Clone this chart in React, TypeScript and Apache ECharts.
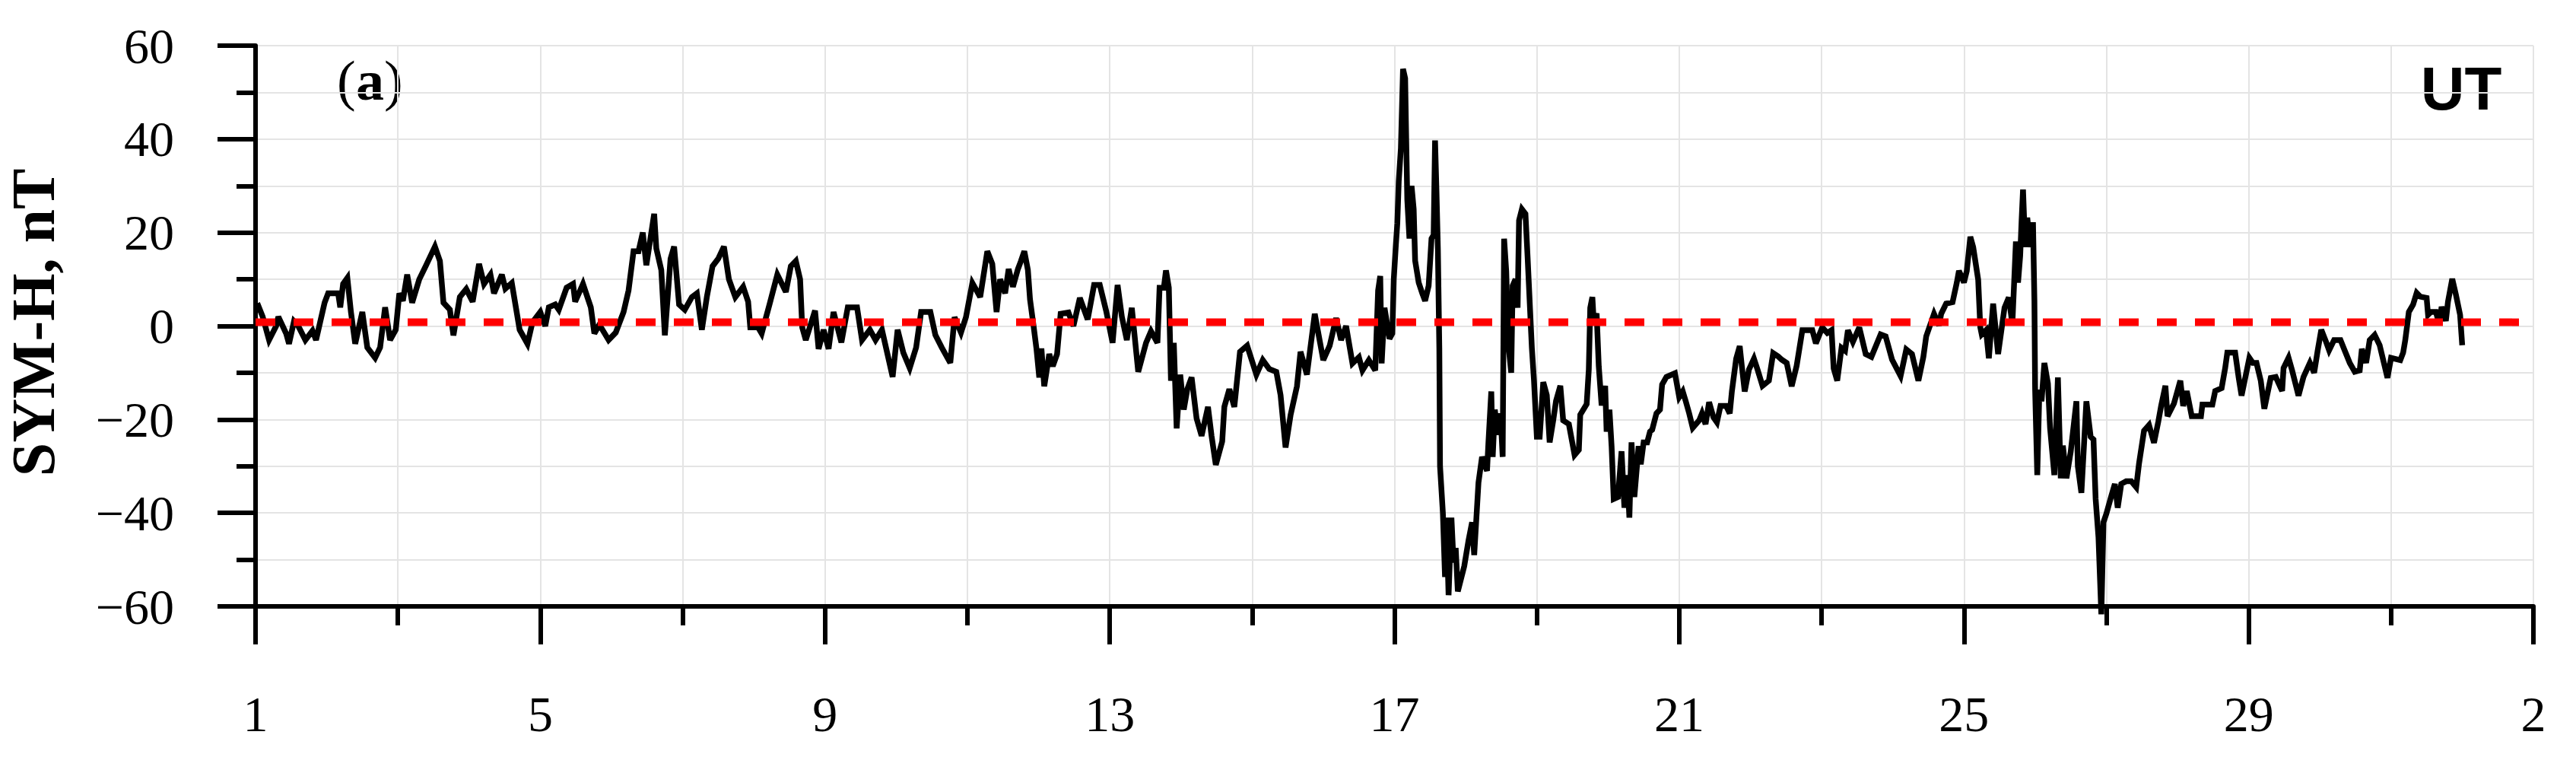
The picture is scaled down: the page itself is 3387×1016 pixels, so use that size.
import React, { useEffect, useRef } from "react";
import * as echarts from "echarts";

// Day of month (fractional, UT) and SYM-H (nT)
const symDays: number[] = [
  1.0, 1.04, 1.1, 1.19, 1.29, 1.32, 1.43, 1.47, 1.54, 1.6, 1.7, 1.8, 1.85, 1.97, 2.02, 2.16, 2.19, 2.23, 2.29, 2.34,
  2.4, 2.5, 2.57, 2.68, 2.75, 2.82, 2.89, 2.97, 3.02, 3.07, 3.13, 3.2, 3.3, 3.39, 3.52, 3.59, 3.64, 3.73, 3.78, 3.87,
  3.96, 4.05, 4.14, 4.21, 4.3, 4.35, 4.46, 4.51, 4.6, 4.71, 4.82, 4.89, 5.0, 5.07, 5.12, 5.21, 5.26, 5.37, 5.46, 5.49,
  5.6, 5.71, 5.76, 5.83, 5.96, 6.06, 6.17, 6.24, 6.31, 6.38, 6.44, 6.49, 6.54, 6.6, 6.63, 6.7, 6.75, 6.83, 6.88, 6.95,
  7.03, 7.13, 7.2, 7.27, 7.34, 7.42, 7.5, 7.58, 7.65, 7.74, 7.85, 7.92, 7.95, 8.06, 8.11, 8.22, 8.33, 8.45, 8.52, 8.59,
  8.65, 8.68, 8.73, 8.86, 8.91, 8.98, 9.05, 9.12, 9.23, 9.32, 9.45, 9.52, 9.63, 9.71, 9.8, 9.95, 10.02, 10.1, 10.19, 10.28,
  10.35, 10.48, 10.55, 10.64, 10.76, 10.82, 10.91, 10.98, 11.07, 11.18, 11.28, 11.35, 11.41, 11.46, 11.53, 11.58, 11.64, 11.71, 11.75, 11.8,
  11.85, 11.88, 11.93, 11.97, 12.01, 12.04, 12.08, 12.15, 12.2, 12.26, 12.31, 12.42, 12.49, 12.58, 12.69, 12.78, 12.86, 12.95, 13.04, 13.11,
  13.17, 13.24, 13.31, 13.4, 13.51, 13.58, 13.67, 13.7, 13.76, 13.79, 13.83, 13.86, 13.9, 13.94, 13.99, 14.04, 14.09, 14.15, 14.22, 14.29,
  14.38, 14.43, 14.49, 14.58, 14.61, 14.68, 14.75, 14.83, 14.93, 15.06, 15.15, 15.24, 15.34, 15.4, 15.47, 15.54, 15.63, 15.68, 15.77, 15.88,
  16.0, 16.09, 16.18, 16.25, 16.32, 16.41, 16.5, 16.55, 16.64, 16.73, 16.77, 16.8, 16.82, 16.86, 16.93, 16.97, 16.99, 17.02, 17.04, 17.06,
  17.09, 17.12, 17.15, 17.16, 17.18, 17.21, 17.24, 17.27, 17.29, 17.34, 17.39, 17.43, 17.48, 17.52, 17.55, 17.57, 17.59, 17.61, 17.63, 17.64,
  17.68, 17.71, 17.73, 17.76, 17.8, 17.83, 17.86, 17.89, 17.98, 18.04, 18.09, 18.12, 18.18, 18.23, 18.3, 18.32, 18.36, 18.38, 18.41, 18.45,
  18.49, 18.52, 18.54, 18.57, 18.6, 18.64, 18.66, 18.7, 18.73, 18.75, 18.79, 18.84, 18.87, 18.93, 18.96, 19.0, 19.04, 19.09, 19.14, 19.18,
  19.23, 19.27, 19.33, 19.37, 19.45, 19.53, 19.59, 19.61, 19.7, 19.73, 19.75, 19.78, 19.8, 19.84, 19.87, 19.91, 19.96, 19.98, 20.02, 20.05,
  20.08, 20.14, 20.19, 20.23, 20.27, 20.3, 20.33, 20.37, 20.43, 20.46, 20.5, 20.55, 20.59, 20.62, 20.68, 20.73, 20.76, 20.82, 20.94, 21.0,
  21.05, 21.09, 21.14, 21.19, 21.28, 21.32, 21.37, 21.42, 21.48, 21.53, 21.58, 21.66, 21.71, 21.74, 21.8, 21.85, 21.88, 21.92, 21.98, 22.05,
  22.1, 22.17, 22.26, 22.32, 22.39, 22.44, 22.51, 22.58, 22.65, 22.73, 22.87, 22.92, 23.01, 23.08, 23.14, 23.17, 23.22, 23.28, 23.33, 23.37,
  23.44, 23.53, 23.62, 23.7, 23.83, 23.9, 23.99, 24.11, 24.19, 24.27, 24.36, 24.43, 24.47, 24.58, 24.65, 24.68, 24.75, 24.84, 24.9, 24.93,
  25.0, 25.04, 25.09, 25.13, 25.2, 25.23, 25.25, 25.31, 25.35, 25.41, 25.48, 25.57, 25.63, 25.68, 25.73, 25.76, 25.79, 25.81, 25.83, 25.86,
  25.89, 25.93, 25.97, 25.99, 26.0, 26.03, 26.06, 26.09, 26.13, 26.18, 26.21, 26.27, 26.32, 26.36, 26.39, 26.44, 26.5, 26.58, 26.6, 26.65,
  26.72, 26.78, 26.82, 26.85, 26.89, 26.93, 26.96, 27.0, 27.07, 27.12, 27.16, 27.21, 27.28, 27.35, 27.42, 27.46, 27.53, 27.6, 27.67, 27.73,
  27.77, 27.83, 27.86, 27.95, 28.04, 28.08, 28.13, 28.2, 28.33, 28.35, 28.49, 28.53, 28.62, 28.67, 28.7, 28.81, 28.86, 28.9, 29.01, 29.06,
  29.11, 29.17, 29.22, 29.31, 29.38, 29.47, 29.49, 29.56, 29.61, 29.7, 29.77, 29.86, 29.92, 29.97, 30.02, 30.09, 30.13, 30.2, 30.29, 30.34,
  30.42, 30.49, 30.56, 30.59, 30.65, 30.7, 30.77, 30.84, 30.9, 30.95, 31.0, 31.13, 31.17, 31.2, 31.25, 31.31, 31.36, 31.41, 31.5, 31.52,
  31.56, 31.63, 31.68, 31.71, 31.77, 31.8, 31.86, 31.91, 31.97, 32.0,
];

const symValues: number[] = [
  4, 4.3, 2, -3, 0, 2, -1.6, -3.8, 1, 0, -3, -1, -3, 5, 7, 7, 4, 9, 10.3, 3,
  -3.8, 3, -4.6, -6.8, -4.6, 4, -3, -0.8, 7, 5.4, 11, 5, 10, 12.8, 17, 13.9, 5, 3.5, -2, 6.2,
  7.9, 5.2, 13.3, 9, 11, 7, 11, 8, 9.2, -0.8, -3.8, 0.8, 3, 0, 4, 4.6, 3.5, 8.2, 9, 5.2,
  9, 4, -1.6, 0.3, -3, -1.4, 3, 7.6, 16, 16, 20, 13, 18, 24, 16.6, 12, -2, 14.4, 17, 4.6,
  3.5, 6.2, 7, -0.8, 6.2, 12.8, 14.4, 17, 10, 6.2, 8.4, 5.2, -0.3, -0.3, -1.6, 4.6, 11, 7.3, 12.8, 13.9,
  10, -0.3, -3, 3.3, -4.9, -0.8, -4.9, 3, -3.5, 4, 4, -3, -0.8, -3, -0.8, -10.9, -0.8, -5.7, -9, -4.6,
  3, 3, -1.9, -4.6, -7.9, 1.9, -1.4, 1.9, 9.2, 6.2, 16, 13.3, 3, 10, 7, 12.2, 8.4, 12.2, 13.8, 16,
  12, 5.7, 0, -4.8, -11, -4.8, -12.9, -6, -8.6, -6, 2.6, 2.9, 0, 6, 1.4, 8.8, 8.8, 3.2, -3.6, 8.8,
  2, -3, 3.9, -9.8, -3.6, -1.1, -3.6, 8.2, 8.2, 11.9, 8.2, -11.7, -3.6, -21.9, -10.4, -17.9, -13.5, -11, -19.8, -23.5,
  -17.3, -23.5, -29.7, -24.7, -17.3, -13.5, -17.3, -5.5, -4.2, -10.4, -7.3, -9.2, -9.8, -14.8, -26, -19.1, -12.9, -5.5, -10.4, 2.6,
  -7.3, -4.2, 1.7, -3, 0, -8, -6.7, -9.5, -7.3, -9.5, 7.6, 10.7, -8, 3.9, -2.7, -1.6, 10, 17.5, 22, 31,
  38, 55, 53, 44, 27, 18.7, 30, 25, 14, 9.3, 7, 5.4, 8.6, 18.7, 19.5, 39.7, 28.8, 16.3, -4.7, -30,
  -40, -53.7, -41, -57.6, -41, -50.6, -47.5, -56.8, -51.4, -45.9, -42, -49, -33.5, -28, -31, -24.9, -14, -28, -17.9, -23.3,
  -18.7, -28, 18.7, 11.7, -3.9, -10, 8.6, 10, 3.9, 22.6, 25, 24, 14.8, -4.7, -11.7, -23.7, -23.7, -12, -14.8, -24.9,
  -20.2, -16, -12.8, -20.2, -21, -27.6, -26.5, -19, -16.7, -9.3, 3.9, 6.2, 0.8, 2.7, -8.6, -17, -12.8, -22.6, -17.9, -25.7,
  -37, -36.6, -26.8, -38.9, -31.9, -41, -24.9, -36.6, -25.7, -29.6, -24.9, -24.9, -22.6, -22.2, -18.7, -17.9, -12.5, -10.9, -10.1, -15.2,
  -14, -16, -18.7, -21.8, -20.2, -18.7, -21, -16.3, -19.5, -20.6, -17.1, -17.1, -18.7, -14, -7, -4.3, -8.6, -14, -9.3, -7,
  -9.3, -12.8, -11.7, -5.8, -6.5, -7.2, -7.9, -12.9, -8.5, -0.9, -0.9, -3.7, -0.3, -1.5, -0.9, -9.1, -11.7, -4.7, -5.3, -0.9,
  -3.4, -0.3, -6, -6.6, -1.8, -2.2, -7.2, -10.7, -5, -6, -11.7, -6.6, -2.2, 2.6, 0.1, 2.6, 4.8, 5.1, 9.3, 11.8,
  9.3, 11.8, 19.1, 16.9, 9.9, -0.3, -1.8, -0.9, -6.9, 4.8, -6, 3.9, 6.1, 0.4, 18.1, 9.3, 15, 22.6, 29.2, 16.9,
  23.2, 16.9, 22.2, 5.4, -13.6, -31.9, -13.6, -16.1, -7.9, -12.3, -21.8, -31.9, -11, -32.6, -25.6, -32.6, -26.9, -16.1, -30, -35.7,
  -16.1, -23.7, -24.3, -37, -45.2, -61.7, -42, -40.2, -36.4, -33.8, -38.9, -33.8, -33.2, -33.2, -34.5, -29.4, -22.4, -21.2, -25, -20.5,
  -17.1, -12.8, -19.3, -16.6, -11.7, -17.1, -13.9, -19.3, -19.3, -16.8, -16.8, -13.9, -13.3, -9, -5.7, -5.7, -11.1, -14.9, -6.8, -7.9,
  -7.9, -11.7, -17.7, -11.1, -10.9, -13.9, -9, -6.8, -9.5, -14.9, -10.9, -7.9, -10, -5.2, -0.8, -3.5, -5.2, -3, -3, -4.9,
  -7.9, -9.8, -9.5, -4.9, -7.9, -3, -1.9, -4.1, -7.9, -11.1, -6.8, -7.3, -5.7, -3, 3, 4.6, 7.1, 6.3, 6, 2.4,
  3, 3, 0.3, 4.1, 1.1, 5.2, 10.1, 6.8, 2.4, -4.1,
];

// Reference (mean) level drawn as the red dashed line
const refLevel = 0.8;
const refDays: number[] = [1, 33];

// Axes
const firstDay = 1;
const monthLength = 31;
const dayTickStep = 4;
const daySpan = 32;
const yMin = -60;
const yMax = 60;
const yStep = 20;

const panelLabel = "a";
const cornerLabel = "UT";
const yTitle = "SYM-H, nT";

export default function App() {
  const ref = useRef<HTMLDivElement>(null);

  useEffect(() => {
    document.body.style.margin = "0";
    const chart = echarts.init(ref.current!, null, { renderer: "svg" });
    const lineData = symDays.map((d, i) => [d - firstDay, symValues[i]]);
    const refData = refDays.map((d) => [d - firstDay, refLevel]);
    const serif = "Liberation Serif";
    const grid = { color: "#e4e4e4", width: 2 };
    const labelSize = 74;
    const labelY = 106;

    chart.setOption({
      animation: false,
      backgroundColor: "#ffffff",
      grid: { left: 336, right: 56, top: 60, bottom: 219, containLabel: false },
      xAxis: {
        type: "value",
        min: 0,
        max: daySpan,
        interval: dayTickStep,
        axisLine: { onZero: false, lineStyle: { color: "#000", width: 6 } },
        axisTick: { show: true, length: 50, lineStyle: { color: "#000", width: 6 } },
        minorTick: { show: true, splitNumber: 2, length: 25, lineStyle: { color: "#000", width: 6 } },
        splitLine: { show: true, lineStyle: grid },
        minorSplitLine: { show: true, lineStyle: grid },
        axisLabel: {
          margin: 108,
          fontFamily: serif,
          fontSize: 66,
          color: "#000",
          formatter: (v: number) => {
            const d = Math.round(v) + firstDay;
            return String(d > monthLength ? d - monthLength : d);
          },
        },
      },
      yAxis: {
        type: "value",
        min: yMin,
        max: yMax,
        interval: yStep,
        axisLine: { show: true, onZero: false, lineStyle: { color: "#000", width: 6 } },
        axisTick: { show: true, length: 50, lineStyle: { color: "#000", width: 6 } },
        minorTick: { show: true, splitNumber: 2, length: 25, lineStyle: { color: "#000", width: 6 } },
        splitLine: { show: true, lineStyle: grid },
        minorSplitLine: { show: true, lineStyle: grid },
        axisLabel: {
          margin: 107,
          fontFamily: serif,
          fontSize: 66,
          color: "#000",
          formatter: (v: number) => (v < 0 ? "\u2212" + Math.abs(v) : String(v)),
        },
      },
      series: [
        {
          type: "line",
          data: lineData,
          showSymbol: false,
          clip: false,
          lineStyle: { color: "#000", width: 7.5, join: "miter", miterLimit: 3 },
          z: 3,
        },
        {
          type: "line",
          data: refData,
          showSymbol: false,
          lineStyle: { color: "#ff0000", width: 10, type: [26, 24], cap: "butt" },
          z: 4,
        },
      ],
      graphic: [
        {
          type: "text",
          x: 443,
          y: labelY,
          style: {
            text: "(",
            font: `${labelSize}px "Liberation Serif"`,
            fill: "#000",
            textAlign: "left",
            textVerticalAlign: "middle",
          },
        },
        {
          type: "text",
          x: 468,
          y: labelY,
          style: {
            text: panelLabel,
            font: `bold ${labelSize}px "Liberation Serif"`,
            fill: "#000",
            textAlign: "left",
            textVerticalAlign: "middle",
          },
        },
        {
          type: "text",
          x: 505,
          y: labelY,
          style: {
            text: ")",
            font: `${labelSize}px "Liberation Serif"`,
            fill: "#000",
            textAlign: "left",
            textVerticalAlign: "middle",
          },
        },
        {
          type: "text",
          x: 3236,
          y: 116,
          style: {
            text: cornerLabel,
            font: 'bold 80px "Liberation Sans"',
            fill: "#000",
            textAlign: "center",
            textVerticalAlign: "middle",
          },
        },
        {
          type: "text",
          x: 44,
          y: 424,
          rotation: Math.PI / 2,
          style: {
            text: yTitle,
            font: 'bold 80px "Liberation Serif"',
            fill: "#000",
            textAlign: "center",
            textVerticalAlign: "middle",
          },
        },
      ],
    });
    return () => chart.dispose();
  }, []);

  return (
    <div
      ref={ref}
      style={{ position: "absolute", left: 0, top: 0, width: 3387, height: 1016, background: "#fff" }}
    />
  );
}
